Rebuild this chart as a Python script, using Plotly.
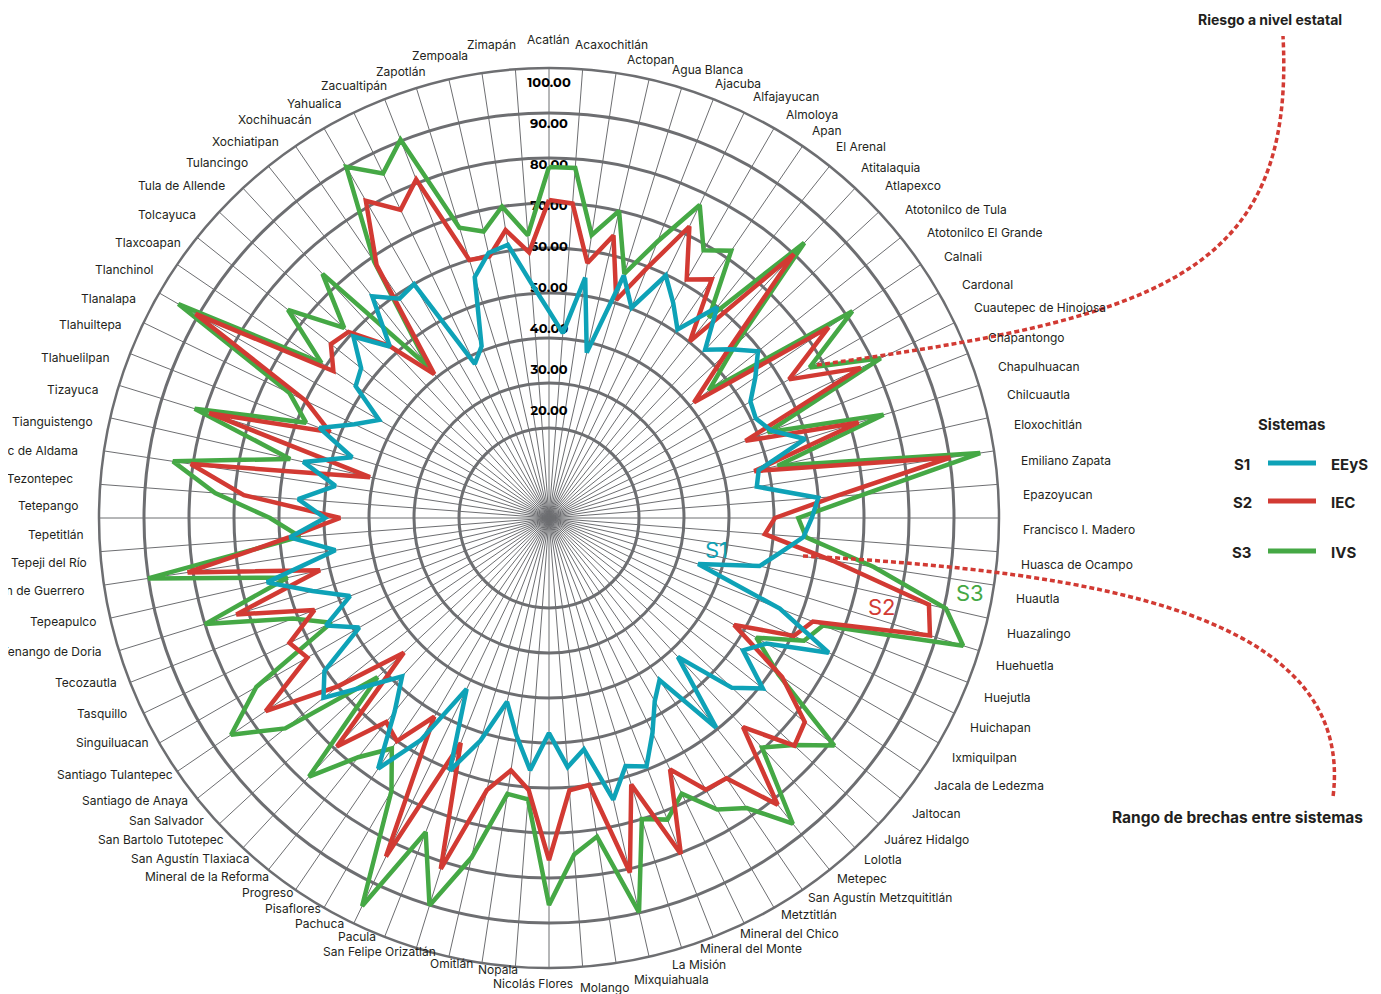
import plotly.graph_objects as go

municipios = [
    "Acatlán", "Acaxochitlán", "Actopan", "Agua Blanca", "Ajacuba", "Alfajayucan",
    "Almoloya", "Apan", "El Arenal", "Atitalaquia", "Atlapexco", "Atotonilco de Tula",
    "Atotonilco El Grande", "Calnali", "Cardonal", "Cuautepec de Hinojosa", "Chapantongo",
    "Chapulhuacan", "Chilcuautla", "Eloxochitlán", "Emiliano Zapata", "Epazoyucan",
    "Francisco I. Madero", "Huasca de Ocampo", "Huautla", "Huazalingo", "Huehuetla",
    "Huejutla", "Huichapan", "Ixmiquilpan", "Jacala de Ledezma", "Jaltocan",
    "Juárez Hidalgo", "Lolotla", "Metepec", "San Agustín Metzquititlán", "Metztitlán",
    "Mineral del Chico", "Mineral del Monte", "La Misión", "Mixquiahuala", "Molango",
    "Nicolás Flores", "Nopala", "Omitlán", "San Felipe Orizatlán", "Pacula", "Pachuca",
    "Pisaflores", "Progreso", "Mineral de la Reforma", "San Agustín Tlaxiaca",
    "San Bartolo Tutotepec", "San Salvador", "Santiago de Anaya", "Santiago Tulantepec",
    "Singuiluacan", "Tasquillo", "Tecozautla", "Tenango de Doria", "Tepeapulco",
    "Tepehuacán de Guerrero", "Tepeji del Río", "Tepetitlán", "Tetepango",
    "Villa de Tezontepec", "Tezontepec de Aldama", "Tianguistengo", "Tizayuca",
    "Tlahuelilpan", "Tlahuiltepa", "Tlanalapa", "Tlanchinol", "Tlaxcoapan", "Tolcayuca",
    "Tula de Allende", "Tulancingo", "Xochiatipan", "Xochihuacán", "Yahualica",
    "Zacualtipán", "Zapotlán", "Zempoala", "Zimapán",
]

# S1 - EEyS
s1_eeys = [46.0, 41.2, 54.0, 37.7, 56.4, 50.2, 59.8, 55.2, 50.7, 59.9,
           51.0, 55.1, 59.4, 55.5, 51.7, 51.0, 53.1, 59.6, 47.8, 46.7,
           60.0, 58.4, 56.7, 51.9, 48.0, 34.7, 55.1, 69.0, 55.8, 52.2,
           60.8, 55.5, 42.1, 59.6, 43.6, 47.0, 53.0, 59.3, 57.7, 64.2,
           52.0, 55.5, 47.8, 56.2, 48.8, 41.9, 51.8, 60.3, 42.2, 57.0,
           67.4, 55.0, 48.0, 54.8, 64.1, 60.4, 48.7, 55.0, 47.5, 55.0,
           64.3, 48.0, 57.8, 49.8, 55.9, 48.0, 56.0, 45.8, 54.8, 48.0,
           43.6, 52.0, 53.4, 59.3, 52.0, 63.0, 59.0, 60.0, 38.0, 41.0,
           56.0, 60.4, 61.4, 52.3]
# S2 - IEC
s2_iec = [70.7, 70.1, 57.3, 64.4, 50.7, 59.7, 71.9, 61.2, 64.2, 50.2,
          80.0, 53.4, 41.2, 75.2, 61.6, 76.9, 46.9, 72.0, 46.8, 90.2,
          63.6, 50.2, 48.1, 63.8, 86.6, 88.6, 63.0, 60.4, 47.5, 62.7,
          72.7, 74.4, 63.4, 81.5, 70.0, 69.7, 62.0, 80.2, 62.0, 80.8,
          60.0, 60.7, 76.0, 60.6, 56.7, 62.0, 81.6, 53.7, 83.5, 51.0,
          60.0, 58.0, 69.3, 44.0, 60.0, 76.2, 62.0, 64.0, 56.0, 72.7,
          52.2, 81.2, 58.0, 46.4, 68.0, 80.5, 40.8, 79.0, 52.3, 60.0,
          90.7, 58.0, 62.0, 60.8, 52.2, 40.9, 68.0, 81.4, 76.0, 80.8,
          60.0, 59.6, 64.7, 59.2]
# S3 - IVS
s3_ivs = [78.0, 78.0, 63.6, 70.0, 56.8, 66.0, 77.2, 68.7, 71.9, 57.0,
          83.4, 56.4, 45.4, 81.6, 66.9, 81.8, 52.2, 77.8, 52.1, 96.9,
          70.2, 55.4, 57.3, 73.0, 90.5, 96.3, 65.4, 62.9, 53.2, 61.7,
          81.1, 74.2, 69.6, 86.9, 78.0, 74.8, 68.0, 72.0, 70.0, 89.9,
          71.6, 75.0, 86.0, 62.7, 62.0, 77.4, 90.1, 75.0, 95.7, 70.0,
          62.0, 68.0, 78.4, 52.0, 75.0, 85.5, 75.1, 53.7, 61.1, 80.0,
          59.6, 90.1, 55.5, 62.0, 74.4, 84.5, 59.0, 82.4, 58.0, 64.0,
          95.1, 61.2, 74.2, 62.1, 74.0, 43.0, 69.0, 90.1, 85.0, 90.3,
          67.5, 65.3, 70.0, 63.0]

radial_ticks = [20, 30, 40, 50, 60, 70, 80, 90, 100]
radial_tick_text = ["%.2f" % v for v in radial_ticks]

GRID = "#6d6e71"
TEAL = "#0ea2b7"
RED = "#d23a33"
GREEN = "#45a845"
TXT = "#231f20"
FONT = "Inter, Roboto, sans-serif"

W, H = 1381.0, 994.0
OFF = 8.0  # page margin of the html body


def px(X, Y):
    return (X - OFF) / W, 1 - (Y - OFF) / H


# polar area: centre and outer radius (page pixels)
CX, CY, R = 549.0, 518.0, 450.0

fig = go.Figure()

# value labels on the vertical axis, drawn beneath the series
fig.add_trace(go.Scatterpolar(
    r=[60 + (v - 60) * 0.91 for v in radial_ticks],
    theta=[municipios[0]] * len(radial_ticks),
    mode="text",
    text=radial_tick_text,
    textfont=dict(family="Montserrat, Lato, Inter, sans-serif", size=13, color="#000000", weight="bold"),
    showlegend=False,
    hoverinfo="skip",
))

for name, vals, col in [("IVS", s3_ivs, GREEN), ("IEC", s2_iec, RED), ("EEyS", s1_eeys, TEAL)]:
    fig.add_trace(go.Scatterpolar(
        r=vals + [vals[0]],
        theta=municipios + [municipios[0]],
        mode="lines",
        name=name,
        line=dict(color=col, width=4.5),
        showlegend=False,
    ))

x0, y0 = px(CX - R, CY + R)
x1, y1 = px(CX + R, CY - R)

fig.update_layout(
    width=int(W), height=int(H),
    margin=dict(l=0, r=0, t=0, b=0),
    paper_bgcolor="white",
    plot_bgcolor="white",
    font=dict(family=FONT, color=TXT),
    polar=dict(
        domain=dict(x=[x0, x1], y=[y0, y1]),
        bgcolor="white",
        angularaxis=dict(
            type="category",
            categoryarray=municipios,
            direction="clockwise",
            rotation=90,
            showgrid=True,
            gridcolor=GRID,
            gridwidth=1.2,
            showline=True,
            linecolor=GRID,
            linewidth=2.5,
            ticks="",
            showticklabels=False,
        ),
        radialaxis=dict(
            range=[0, 100],
            tickvals=radial_ticks,
            showticklabels=False,
            ticks="",
            showline=False,
            gridcolor=GRID,
            gridwidth=2.5,
        ),
    ),
)

# municipality labels around the ring: (anchor, x, y) in page pixels, same order as municipios
label_place = [
    ("center", 548, 40), ("left", 573, 45), ("left", 625, 59), ("left", 670, 70),
    ("left", 713, 83), ("left", 751, 97), ("left", 784, 114), ("left", 810, 130),
    ("left", 834, 146), ("left", 859, 167), ("left", 883, 186), ("left", 903, 209),
    ("left", 925, 232), ("left", 942, 257), ("left", 960, 284), ("left", 972, 307),
    ("left", 986, 337), ("left", 996, 366), ("left", 1005, 394), ("left", 1012, 425),
    ("left", 1019, 460), ("left", 1021, 494), ("left", 1021, 529), ("left", 1019, 564),
    ("left", 1014, 598), ("left", 1005, 633), ("left", 994, 665), ("left", 982, 697),
    ("left", 968, 727), ("left", 950, 757), ("left", 932, 785), ("left", 910, 813),
    ("left", 882, 839), ("left", 862, 859), ("left", 835, 878), ("left", 806, 897),
    ("left", 779, 914), ("left", 738, 933), ("left", 698, 948), ("left", 670, 964),
    ("left", 632, 979), ("center", 604, 987), ("center", 533, 983), ("right", 520, 969),
    ("right", 475, 963), ("right", 438, 951), ("right", 378, 936), ("right", 346, 923),
    ("right", 323, 908), ("right", 295, 892), ("right", 271, 876), ("right", 252, 858),
    ("right", 226, 839), ("right", 206, 820), ("right", 190, 800), ("right", 175, 774),
    ("right", 151, 742), ("right", 129, 713), ("right", 119, 682), ("right", 104, 651),
    ("right", 98, 621), ("right", 87, 590), ("right", 89, 562), ("right", 86, 534),
    ("right", 80, 505), ("right", 75, 478), ("right", 80, 450), ("right", 95, 422),
    ("right", 100, 390), ("right", 112, 357), ("right", 124, 325), ("right", 138, 298),
    ("right", 156, 269), ("right", 183, 242), ("right", 198, 215), ("right", 227, 186),
    ("right", 250, 162), ("right", 281, 141), ("right", 314, 120), ("right", 344, 103),
    ("right", 389, 86), ("right", 428, 71), ("right", 470, 56), ("right", 518, 44),
]
for name, (anc, X, Y) in zip(municipios, label_place):
    ax, ay = px(X, Y)
    fig.add_annotation(x=ax, y=ay, xref="paper", yref="paper", text=name, showarrow=False,
                       xanchor=anc, yanchor="middle", font=dict(family=FONT, size=12, color=TXT))


def note(X, Y, text, size, color=TXT, anchor="center"):
    ax, ay = px(X, Y)
    fig.add_annotation(x=ax, y=ay, xref="paper", yref="paper", text=text, showarrow=False,
                       xanchor=anchor, yanchor="middle", font=dict(family=FONT, size=size, color=color))


# series tags inside the chart
note(716, 550, "S1", 22, TEAL)
note(882, 607, "S2", 22, RED)
note(970, 593, "S3", 22, GREEN)

# legend block
note(1291, 424, "<b>Sistemas</b>", 15)
for tag, name, col, Y in [("S1", "EEyS", TEAL, 464), ("S2", "IEC", RED, 502), ("S3", "IVS", GREEN, 552)]:
    note(1242, Y, "<b>%s</b>" % tag, 15)
    note(1329, Y, "<b>%s</b>" % name, 15, anchor="left")
    lx0, ly = px(1268, Y - 1)
    lx1, _ = px(1316, Y - 1)
    fig.add_shape(type="line", xref="paper", yref="paper", x0=lx0, x1=lx1, y0=ly, y1=ly,
                  line=dict(color=col, width=5))

# callouts
note(1270, 19, "<b>Riesgo a nivel estatal</b>", 14)
note(1237, 817, "<b>Rango de brechas entre sistemas</b>", 15.5)


def P(X, Y):
    a, b = px(X, Y)
    return "%.5f %.5f" % (a, b)


fig.add_shape(type="path", xref="paper", yref="paper",
              path="M %s C %s, %s, %s" % (P(817, 365), P(1150, 318), P(1296, 280), P(1283, 36)),
              line=dict(color=RED, width=3.5, dash="5px,3px"))
fig.add_shape(type="path", xref="paper", yref="paper",
              path="M %s C %s, %s, %s" % (P(803, 556), P(1100, 572), P(1356, 615), P(1333, 797)),
              line=dict(color=RED, width=3.5, dash="5px,3px"))

fig.write_html("out.html")
